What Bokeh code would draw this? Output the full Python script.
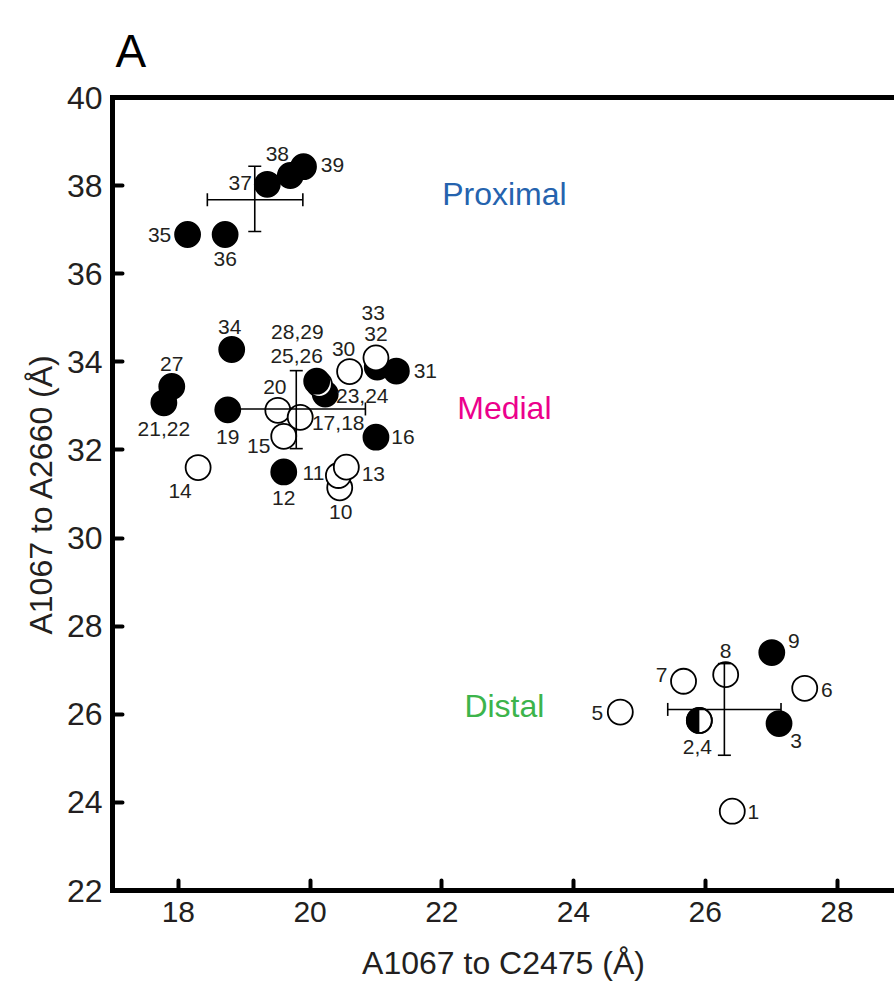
import math
from bokeh.plotting import figure
from bokeh.models import LinearAxis, FixedTicker, Range1d, ColumnDataSource
from bokeh.core.properties import value
from bokeh.embed import file_html
from bokeh.resources import INLINE

# ---------------- data ----------------
# site labels, in drawing order (later ones are drawn on top)
site_label = ["1", "5", "7", "8", "6", "9", "3", "2,4",
              "14", "12", "19", "34", "27", "21,22", "10", "11", "13", "16",
              "15", "20", "17,18", "23,24", "28,29", "25,26", "30", "31", "33", "32",
              "35", "36", "37", "38", "39"]
# A1067 to C2475 distance (Å)
dist_x = [26.41, 24.71, 25.67, 26.31, 27.51, 27.01, 27.12, 25.91,
          18.30, 19.60, 18.75, 18.81, 17.90, 17.78, 20.45, 20.43, 20.55, 21.00,
          19.60, 19.51, 19.85, 20.23, 20.14, 20.10, 20.60, 21.31, 21.02, 21.00,
          18.14, 18.71, 19.35, 19.70, 19.90]
# A1067 to A2660 distance (Å)
dist_y = [23.80, 26.05, 26.75, 26.90, 26.59, 27.40, 25.79, 25.86,
          31.60, 31.50, 32.91, 34.28, 33.44, 33.07, 31.14, 31.42, 31.61, 32.29,
          32.31, 32.90, 32.74, 33.27, 33.49, 33.56, 33.78, 33.79, 33.88, 34.09,
          36.89, 36.89, 38.03, 38.23, 38.43]
# marker state: open / filled / half
state = ["open", "open", "open", "open", "open", "filled", "filled", "half",
         "open", "filled", "filled", "filled", "filled", "filled", "open", "open", "open", "filled",
         "open", "open", "open", "filled", "open", "filled", "open", "filled", "filled", "open",
         "filled", "filled", "filled", "filled", "filled"]

# group means and spreads (error crosses)
group_name = ["Proximal", "Medial", "Distal"]
mean_x = [19.16, 19.79, 26.29]
mean_y = [37.68, 32.93, 26.11]
x_lo = [18.44, 18.74, 25.43]
x_hi = [19.89, 20.84, 27.15]
y_lo = [36.96, 32.03, 25.07]
y_hi = [38.44, 33.80, 27.15]

# group label positions
group_lx = [22.95, 22.95, 22.95]
group_ly = [37.82, 32.96, 26.18]

x_ticks = [18, 20, 22, 24, 26, 28]
y_ticks = [22, 24, 26, 28, 30, 32, 34, 36, 38, 40]

# ---------------- styles ----------------
group_color = ["#2563ae", "#ec008c", "#3cb44b"]
# label offsets in screen pixels (dx right, dy down)
lab_dx = [21, -23, -22, 0, 22, 22, 17, -2,
          -18, 0, 0, -2, 0, 0, 1, -25, 27, 27,
          -25, -3, 38, 37, -22, -20, -6, 29, -4, 0,
          -28, 0, -27, -13, 29]
lab_dy = [1, 1, -6, -24, 2, -12, 17, 27,
          23, 26, 27, -22, -23, 26, 24, -2, 7, 0,
          10, -23, 6, 2, -52, -25, -23, 0, -54, -24,
          0, 24, -1, -21, -2]

FONT = "Liberation Sans"
INK = "#231f20"

fill = ["black" if s == "filled" else "white" for s in state]
src = ColumnDataSource(dict(x=dist_x, y=dist_y, fill=fill, lab=site_label,
                            dx=lab_dx, dy=lab_dy))

p = figure(width=894, height=988, x_range=Range1d(17, 28.873), y_range=Range1d(22, 40),
           output_backend="svg", toolbar_location=None,
           min_border_left=112, min_border_right=0, min_border_top=97, min_border_bottom=98,
           outline_line_color=None, background_fill_color="white", border_fill_color="white")
p.grid.visible = False

# panel letter
p.title.text = "A"
p.title.text_font = FONT
p.title.text_font_size = "46px"
p.title.text_font_style = "normal"
p.title.text_color = "black"
p.title.align = "left"
p.title.offset = 3
p.title.standoff = 42

xa = p.xaxis[0]
ya = p.yaxis[0]
xa.ticker = FixedTicker(ticks=x_ticks)
ya.ticker = FixedTicker(ticks=y_ticks)
xa.axis_label = "A1067 to C2475 (Å)"
ya.axis_label = "A1067 to A2660 (Å)"
for ax in (xa, ya):
    ax.axis_line_width = 5
    ax.axis_line_color = "black"
    ax.axis_line_cap = "square"
    ax.major_tick_in = 10
    ax.major_tick_out = 0
    ax.major_tick_line_width = 4
    ax.major_tick_line_cap = "round"
    ax.minor_tick_line_color = None
    ax.major_label_text_font = FONT
    ax.major_label_text_color = INK
    ax.axis_label_text_font = FONT
    ax.axis_label_text_font_size = "32px"
    ax.axis_label_text_font_style = "normal"
    ax.axis_label_text_color = INK
xa.major_label_text_font_size = "30px"
ya.major_label_text_font_size = "32px"
xa.major_label_standoff = 11
xa.axis_label_standoff = 20
ya.major_label_standoff = 10
ya.axis_label_standoff = 5

top = LinearAxis(ticker=FixedTicker(ticks=[]), axis_line_width=5, axis_line_color="black",
                 axis_line_cap="square", major_tick_line_color=None, minor_tick_line_color=None,
                 major_label_text_font_size="0px")
p.add_layout(top, "above")

# points
p.scatter(x="x", y="y", source=src, size=25, marker="circle",
          fill_color="fill", line_color="black", line_width=1.8)

# half-filled marker(s)
hx = [x for x, s in zip(dist_x, state) if s == "half"]
hy = [y for y, s in zip(dist_y, state) if s == "half"]
p.wedge(x=hx, y=hy, radius=12.5, radius_units="screen", start_angle=math.pi / 2,
        end_angle=3 * math.pi / 2, fill_color="black", line_color=None)
p.scatter(x=hx, y=hy, size=25, marker="circle", fill_color=None,
          line_color="black", line_width=1.8)

# error crosses
p.segment(x0=x_lo, y0=mean_y, x1=x_hi, y1=mean_y, line_color="black", line_width=1.6)
p.segment(x0=mean_x, y0=y_lo, x1=mean_x, y1=y_hi, line_color="black", line_width=1.6)
p.scatter(x=mean_x + mean_x, y=y_lo + y_hi, marker="dash", size=13,
          line_color="black", line_width=1.6)
p.scatter(x=x_lo + x_hi, y=mean_y + mean_y, marker="dash", size=13, angle=math.pi / 2,
          line_color="black", line_width=1.6)

# point labels
p.text(x="x", y="y", text="lab", source=src, x_offset="dx", y_offset="dy",
       text_font=value(FONT), text_font_size=value("21px"), text_color=INK,
       text_align="center", text_baseline="middle")

# group labels
p.text(x=group_lx, y=group_ly, text=group_name, text_color=group_color,
       text_font=value(FONT), text_font_size=value("32px"),
       text_align="center", text_baseline="middle")

open("out.html", "w").write(file_html(p, INLINE))
